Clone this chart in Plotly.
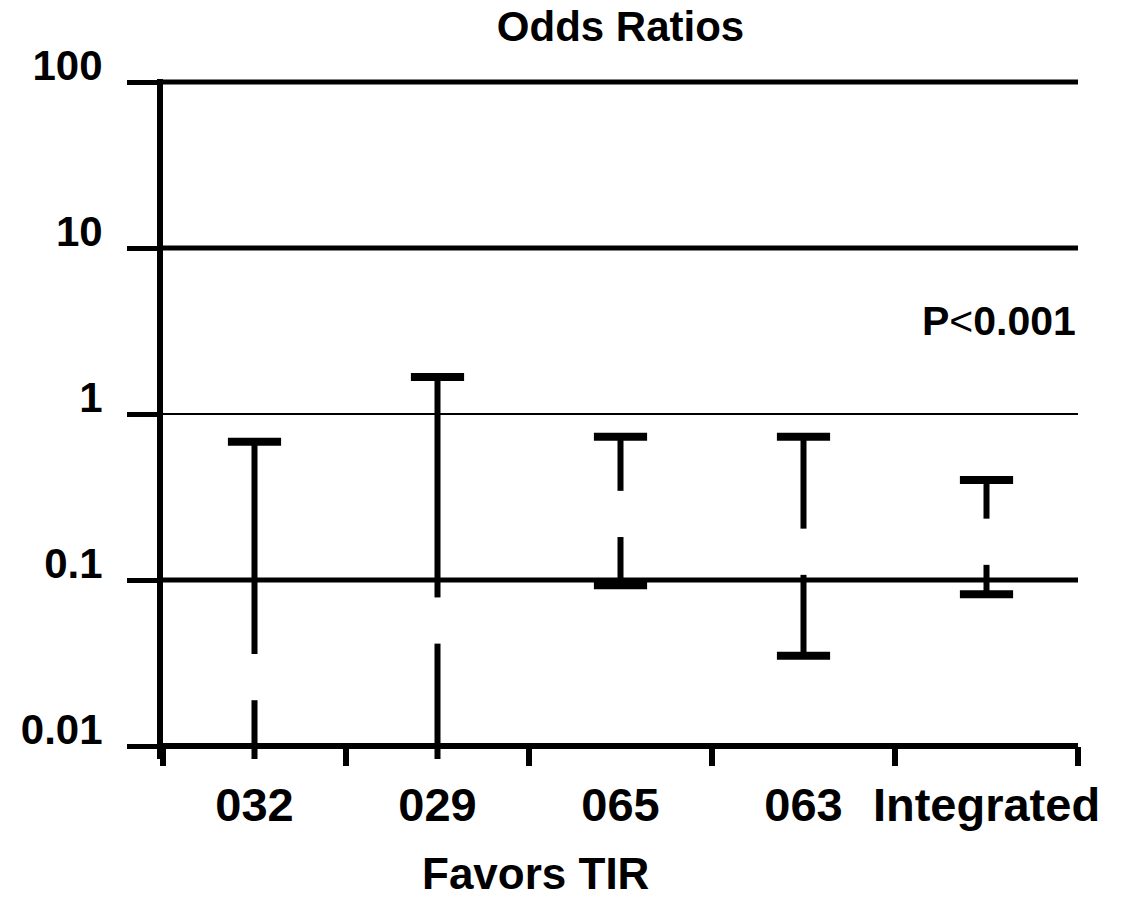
import plotly.graph_objects as go

# ---- data ----
categories = ["032", "029", "065", "063", "Integrated"]
point_est = [0.026, 0.057, 0.25, 0.148, 0.17]
upper_ci = [0.68, 1.67, 0.73, 0.73, 0.40]
lower_ci = [0.005, 0.005, 0.093, 0.035, 0.082]   # 032 / 029 run below the axis

y_tick_vals = [0.01, 0.1, 1, 10, 100]
y_tick_text = ["0.01", "0.1", "1", "10", "100"]
grid_widths = [6, 5, 2, 5, 5]

FONT = "Liberation Sans, Arial, sans-serif"

err_plus = [u - p for u, p in zip(upper_ci, point_est)]
err_minus = [p - l for p, l in zip(point_est, lower_ci)]

fig = go.Figure()

# stems
fig.add_trace(go.Scatter(
    x=categories, y=point_est, mode="markers",
    marker=dict(size=1, color="rgba(0,0,0,0)"),
    error_y=dict(type="data", symmetric=False, array=err_plus, arrayminus=err_minus,
                 width=0, thickness=6, color="black"),
    hoverinfo="skip", showlegend=False))

# caps
fig.add_trace(go.Scatter(
    x=categories + categories, y=upper_ci + lower_ci, mode="markers",
    marker=dict(symbol="line-ew", size=38, line=dict(width=8, color="black")),
    showlegend=False))

# point estimates (white gaps)
fig.add_trace(go.Scatter(
    x=categories, y=point_est, mode="markers",
    marker=dict(symbol="line-ns", size=33, line=dict(width=11, color="white")),
    showlegend=False))

# horizontal gridlines
for v, w in zip(y_tick_vals, grid_widths):
    fig.add_shape(type="line", xref="x domain", yref="y", x0=0, x1=1, y0=v, y1=v,
                  line=dict(color="black", width=w), layer="below")

PX_PER_DEC = 166
ymin_log = -2 - 13 / PX_PER_DEC
ymax_log = 2 + 3 / PX_PER_DEC
T, B = 79, 141
L, R = 163, 48
plot_h = 900 - T - B
plot_w = 1126 - L - R

fig.update_layout(
    width=1126, height=900,
    margin=dict(l=L, r=R, t=T, b=B, autoexpand=False),
    paper_bgcolor="white", plot_bgcolor="white",
    font=dict(family=FONT, color="black"),
    title=dict(text="Odds Ratios", x=0.5, xref="paper", y=1 - 26 / 900, yref="container",
               yanchor="middle", font=dict(size=42, weight="bold", family=FONT)),
    showlegend=False,
    xaxis=dict(type="category", categoryorder="array", categoryarray=categories,
               range=[-0.5, 4.5], tickson="boundaries", ticks="outside", ticklen=19,
               tickwidth=6, tickcolor="black", showline=False, showgrid=False,
               anchor="free", position=13 / plot_h, automargin=False, tickangle=0,
               tickfont=dict(size=47, weight="bold", family=FONT), ticklabelstandoff=27),
    yaxis=dict(type="log", range=[ymin_log, ymax_log], tickvals=y_tick_vals, ticktext=y_tick_text,
               ticks="outside", ticklen=30, tickwidth=5, tickcolor="black", automargin=False,
               showline=True, linewidth=6, linecolor="black", showgrid=False, zeroline=False,
               tickfont=dict(size=42, weight="bold", family=FONT),
               ticklabelshift=-17, ticklabelstandoff=16),
    annotations=[
        dict(text="<b>P</b>&lt;<b>0.001</b>", xref="paper", yref="paper",
             x=1, y=(900 - B - 321) / plot_h, xanchor="right", yanchor="middle",
             showarrow=False, font=dict(size=41, family=FONT)),
        dict(text="<b>Favors TIR</b>", xref="paper", yref="paper",
             x=(535 - L) / plot_w, y=-(873 - (900 - B)) / plot_h,
             xanchor="center", yanchor="middle", showarrow=False,
             font=dict(size=44, family=FONT)),
    ],
)

fig.write_html("out.html")
